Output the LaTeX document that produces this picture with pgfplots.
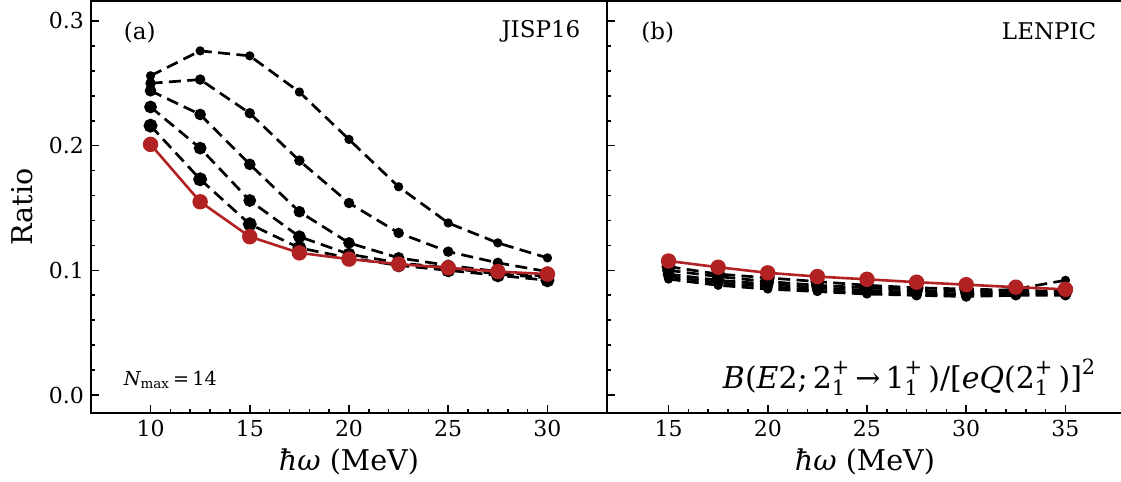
\documentclass[border=0pt]{standalone}
\usepackage{pgfplots}
\pgfplotsset{compat=1.18}
\usepackage{pgfplotstable}
\usepackage{amsmath}
\usepackage{fontspec}
\setmainfont{DejaVu Serif}
\definecolor{fb}{HTML}{B22222}
\newcommand{\tx}[1]{\text{#1}}

\pgfplotstableread{
x s1 s2 s3 s4 s5 r
10 0.256 0.250 0.244 0.231 0.216 0.201
12.5 0.276 0.253 0.225 0.198 0.173 0.155
15 0.272 0.226 0.185 0.156 0.137 0.127
17.5 0.243 0.188 0.147 0.127 0.118 0.114
20 0.205 0.154 0.122 0.113 0.110 0.109
22.5 0.167 0.130 0.110 0.106 0.104 0.105
25 0.138 0.115 0.104 0.102 0.100 0.102
27.5 0.122 0.106 0.099 0.097 0.096 0.099
30 0.110 0.099 0.095 0.094 0.092 0.097
}\tabA

\pgfplotstableread{
x s1 s2 s3 s4 s5 r
15 0.093 0.095 0.097 0.100 0.103 0.1075
17.5 0.088 0.090 0.092 0.095 0.097 0.1025
20 0.085 0.087 0.089 0.091 0.094 0.098
22.5 0.083 0.084 0.086 0.088 0.091 0.095
25 0.081 0.082 0.084 0.086 0.088 0.0928
27.5 0.080 0.080 0.082 0.084 0.086 0.0905
30 0.081 0.079 0.081 0.083 0.085 0.0885
32.5 0.085 0.080 0.081 0.082 0.084 0.0865
35 0.092 0.080 0.081 0.082 0.083 0.0848
}\tabB

\pgfplotsset{
  common/.style={
    scale only axis, width=258pt, height=206pt,
    ymin=-0.0144, ymax=0.316,
    ytick={0,0.1,0.2,0.3}, minor y tick num=4, minor x tick num=4,
    tick align=inside,
    axis line style={line width=1.1pt},
    major tick length=4pt, minor tick length=2pt,
    every tick/.style={black, line width=0.8pt},
    xtick pos=bottom, ytick pos=left,
    /pgf/number format/assume math mode=true,
    tick label style={font=\fontsize{11}{13}\selectfont},
    label style={font=\fontsize{14.3}{17}\selectfont},
    yticklabel style={/pgf/number format/.cd, fixed, fixed zerofill, precision=1},
    xlabel={\textit{ħω} (MeV)},
    xlabel style={at={(axis description cs:0.5,-0.119)}, anchor=center},
  },
  blk/.style={black, line width=1.35pt, dash pattern=on 6pt off 3.2pt, mark=*, mark options={solid}},
  red/.style={fb, line width=1.3pt, solid, mark=*, mark size=3.2pt, mark options={solid}},
}

\begin{document}
\begin{tikzpicture}
\begin{axis}[common, at={(45.5pt,34.5pt)}, anchor=south west,
  xmin=7, xmax=33, xtick={10,15,20,25,30},
  ylabel={Ratio},
  ylabel style={at={(axis description cs:-0.134,0.5)}, anchor=center}]
\addplot[blk, mark size=1.6pt] table[x=x, y=s1] {\tabA};
\addplot[blk, mark size=1.9pt] table[x=x, y=s2] {\tabA};
\addplot[blk, mark size=2.2pt] table[x=x, y=s3] {\tabA};
\addplot[blk, mark size=2.5pt] table[x=x, y=s4] {\tabA};
\addplot[blk, mark size=2.8pt] table[x=x, y=s5] {\tabA};
\addplot[red] table[x=x, y=r] {\tabA};
\node[anchor=west, font=\fontsize{11.5}{13}\selectfont] at (rel axis cs:0.05,0.923) {(a)};
\node[anchor=east, font=\fontsize{11.5}{13}\selectfont] at (rel axis cs:0.962,0.927) {JISP16};
\node[anchor=west, font=\fontsize{9.6}{12}\selectfont] at (rel axis cs:0.05,0.08) {$\tx{\itshape N}_{\tx{max}}\tx{\,=\,14}$};
\end{axis}
\begin{axis}[common, at={(303.5pt,34.5pt)}, anchor=south west,
  xmin=11.9, xmax=37.9, xtick={15,20,25,30,35},
  yticklabels={}]
\addplot[blk, mark size=1.6pt] table[x=x, y=s1] {\tabB};
\addplot[blk, mark size=1.9pt] table[x=x, y=s2] {\tabB};
\addplot[blk, mark size=2.2pt] table[x=x, y=s3] {\tabB};
\addplot[blk, mark size=2.5pt] table[x=x, y=s4] {\tabB};
\addplot[blk, mark size=2.8pt] table[x=x, y=s5] {\tabB};
\addplot[red] table[x=x, y=r] {\tabB};
\node[anchor=west, font=\fontsize{11.5}{13}\selectfont] at (rel axis cs:0.053,0.923) {(b)};
\node[anchor=east, font=\fontsize{11.5}{13}\selectfont] at (rel axis cs:0.962,0.927) {LENPIC};
\node[anchor=east, font=\fontsize{15}{17}\selectfont] at (rel axis cs:0.962,0.087)
 {$\tx{\itshape B}\tx{(}\tx{\itshape E}\tx{2;\,}\tx{2}^{\tx{+}}_{\tx{1}}\tx{\,→\,}\tx{1}^{\tx{+}}_{\tx{1}}\tx{\,)/[}\tx{\itshape eQ}\tx{(}\tx{2}^{\tx{+}}_{\tx{1}}\tx{\,)]}^{\tx{2}}$};
\end{axis}
\pgfresetboundingbox
\useasboundingbox (0,0) rectangle (560.5pt,241pt);
\end{tikzpicture}
\end{document}
